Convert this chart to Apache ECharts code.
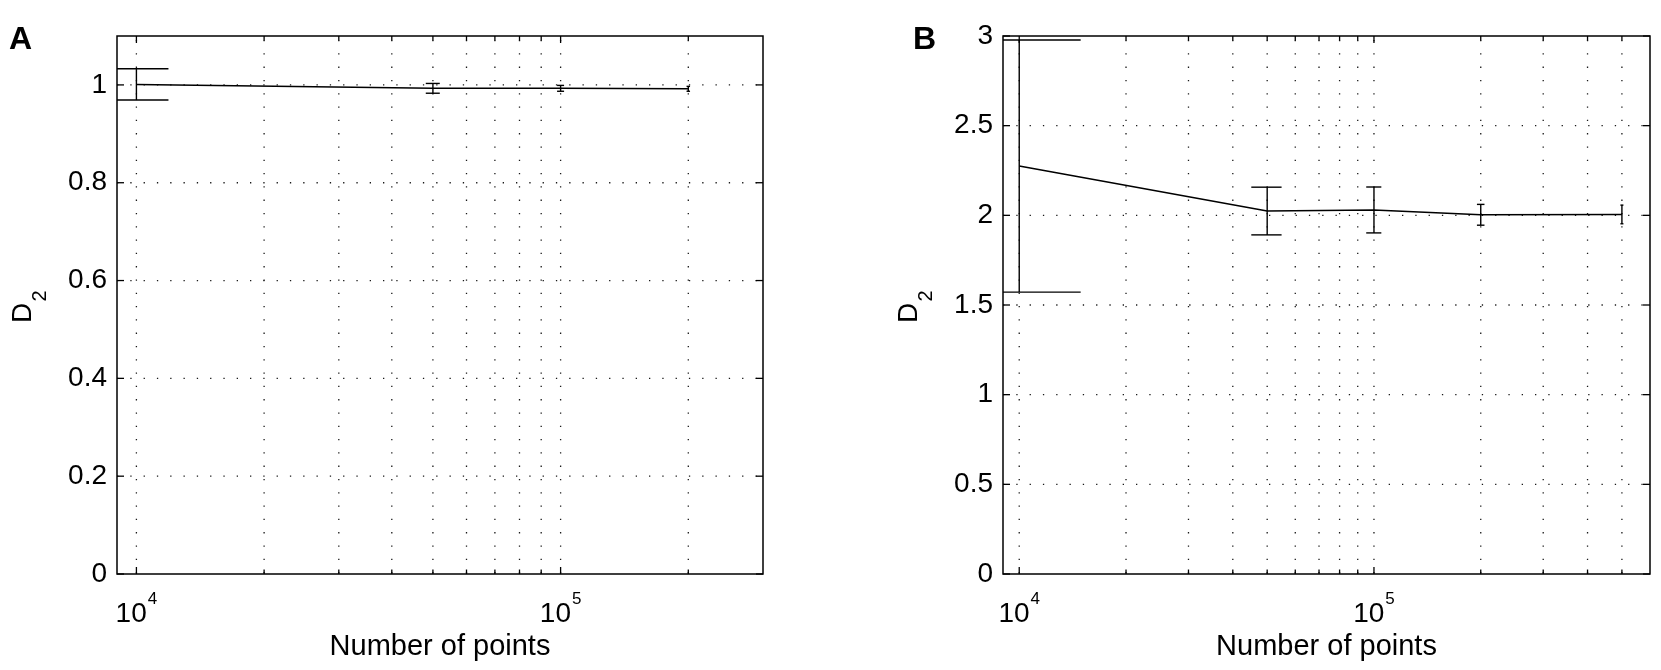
<!DOCTYPE html>
<html><head><meta charset="utf-8">
<script src="https://cdn.jsdelivr.net/npm/echarts@6/dist/echarts.min.js"></script>
<style>html,body{margin:0;padding:0;background:#fff}#c{width:1661px;height:670px}</style>
</head><body><div id="c"></div>
<script>
// ---------- Panel A ----------
const xA = [10000, 50000, 100000, 200000];
const yA = [1.001, 0.993, 0.993, 0.992];
const errA = [0.032, 0.010, 0.006, 0.005];
const xRangeA = [9000, 300000];
const yRangeA = [0, 1.1];
const yTicksA = [0, 0.2, 0.4, 0.6, 0.8, 1];
const xGridA = [10000, 20000, 30000, 40000, 50000, 60000, 70000, 80000, 90000, 100000, 200000];
// ---------- Panel B ----------
const xB = [10000, 50000, 100000, 200000, 500000];
const yB = [2.275, 2.024, 2.030, 2.003, 2.005];
const errB = [0.703, 0.133, 0.128, 0.058, 0.052];
const xRangeB = [9000, 600000];
const yRangeB = [0, 3];
const yTicksB = [0, 0.5, 1, 1.5, 2, 2.5, 3];
const xGridB = [10000, 20000, 30000, 40000, 50000, 60000, 70000, 80000, 90000, 100000, 200000, 300000, 400000, 500000];
// labelled decades
const xMajor = [10000, 100000];
const xLabel = 'Number of points';
const yLabel = ['D', '2'];
const panelLetters = ['A', 'B'];

const FONT = '"Liberation Sans", Arial, Helvetica, sans-serif';
const DOT = [1.3, 12];
const chart = echarts.init(document.getElementById('c'), null, {renderer: 'canvas'});

function isMajor(v) { return xMajor.some(m => Math.abs(m - v) / m < 1e-6); }

function xAxisCfg(gi, range) {
  return {
    gridIndex: gi, type: 'log', logBase: 10, min: range[0], max: range[1],
    axisLine: {show: false}, axisTick: {show: false}, splitLine: {show: false},
    minorTick: {show: false}, minorSplitLine: {show: false},
    axisLabel: {
      margin: 17, color: '#000', showMinLabel: true, showMaxLabel: true,
      formatter: function (v) {
        if (!isMajor(v)) return '';
        return '{b|10}{s|' + Math.round(Math.log10(v)) + '}';
      },
      rich: {
        b: {fontSize: 28, fontFamily: FONT, color: '#000', verticalAlign: 'bottom'},
        s: {fontSize: 17, fontFamily: FONT, color: '#000', verticalAlign: 'bottom', padding: [0, 0, 20, 1]}
      }
    },
    name: xLabel, nameLocation: 'middle', nameGap: 53,
    nameTextStyle: {fontSize: 29, fontFamily: FONT, color: '#000'}
  };
}
function yAxisCfg(gi, range, ticks, interval) {
  return {
    gridIndex: gi, type: 'value', min: range[0], max: range[1], interval: interval,
    axisLine: {show: false}, axisTick: {show: false}, splitLine: {show: false},
    axisLabel: {
      margin: 10, fontSize: 28, fontFamily: FONT, color: '#000',
      formatter: function (v) {
        return ticks.some(t => Math.abs(t - v) < 1e-9) ? String(+v.toFixed(3)) : '';
      }
    }
  };
}

function vGridSeries(gi, grid, range) {
  return {
    type: 'custom', xAxisIndex: gi, yAxisIndex: gi, silent: true, z: 1,
    data: grid.map(v => [v, isMajor(v) ? 1 : 0]),
    encode: {x: 0},
    renderItem: function (params, api) {
      const v = api.value(0);
      const x = api.coord([v, 0])[0];
      const cs = params.coordSys;
      const top = cs.y, bot = cs.y + cs.height;
      const len = api.value(1) ? 7 : 4.5;
      const ch = [];
      if (x > cs.x + 1 && x < cs.x + cs.width - 1) {
        ch.push({type: 'line', shape: {x1: x, y1: top + 4, x2: x, y2: bot},
          style: {stroke: '#1a1a1a', lineWidth: 1.3, lineDash: DOT}});
      }
      ch.push({type: 'line', shape: {x1: x, y1: bot, x2: x, y2: bot - len}, style: {stroke: '#000', lineWidth: 1.3}});
      ch.push({type: 'line', shape: {x1: x, y1: top, x2: x, y2: top + len}, style: {stroke: '#000', lineWidth: 1.3}});
      return {type: 'group', children: ch};
    }
  };
}
function hGridSeries(gi, ticks, xr, yr) {
  return {
    type: 'custom', xAxisIndex: gi, yAxisIndex: gi, silent: true, z: 1,
    data: ticks.map(v => [xr[0], v]),
    encode: {x: 0, y: 1},
    renderItem: function (params, api) {
      const v = api.value(1);
      const y = api.coord([xr[0], v])[1];
      const cs = params.coordSys;
      const l = cs.x, r = cs.x + cs.width;
      const ch = [];
      if (v > yr[0] && v < yr[1]) {
        ch.push({type: 'line', shape: {x1: l, y1: y, x2: r, y2: y},
          style: {stroke: '#1a1a1a', lineWidth: 1.3, lineDash: DOT}});
      }
      ch.push({type: 'line', shape: {x1: l, y1: y, x2: l + 7, y2: y}, style: {stroke: '#000', lineWidth: 1.3}});
      ch.push({type: 'line', shape: {x1: r, y1: y, x2: r - 7, y2: y}, style: {stroke: '#000', lineWidth: 1.3}});
      return {type: 'group', children: ch};
    }
  };
}
function lineSeries(gi, xs, ys) {
  return {
    type: 'line', xAxisIndex: gi, yAxisIndex: gi, z: 3, silent: true,
    data: xs.map((x, i) => [x, ys[i]]), showSymbol: false, symbol: 'none',
    lineStyle: {color: '#000', width: 1.5}
  };
}
function errSeries(gi, xs, ys, es) {
  const tee = (Math.max(...xs) - Math.min(...xs)) / 100;
  return {
    type: 'custom', xAxisIndex: gi, yAxisIndex: gi, z: 4, silent: true,
    dimensions: ['x', 'y', 'e'], encode: {x: 0, y: 1},
    data: xs.map((x, i) => [x, ys[i], es[i]]),
    renderItem: function (params, api) {
      const x = api.value(0), y = api.value(1), e = api.value(2);
      const cs = params.coordSys;
      const pT = api.coord([x, y + e]), pB = api.coord([x, y - e]);
      let xl = api.coord([x - tee, y])[0], xr = api.coord([x + tee, y])[0];
      xl = Math.max(xl, cs.x); xr = Math.min(xr, cs.x + cs.width);
      const st = {stroke: '#000', lineWidth: 1.4};
      return {type: 'group', children: [
        {type: 'line', shape: {x1: pT[0], y1: pT[1], x2: pB[0], y2: pB[1]}, style: st},
        {type: 'line', shape: {x1: xl, y1: pT[1], x2: xr, y2: pT[1]}, style: st},
        {type: 'line', shape: {x1: xl, y1: pB[1], x2: xr, y2: pB[1]}, style: st}
      ]};
    }
  };
}

function yLab(cx) {
  return [
    {type: 'text', x: cx, y: 313, rotation: Math.PI / 2,
      style: {text: yLabel[0], fontSize: 28, fontFamily: FONT, fill: '#000', align: 'center', verticalAlign: 'middle'}},
    {type: 'text', x: cx + 17, y: 296, rotation: Math.PI / 2,
      style: {text: yLabel[1], fontSize: 20, fontFamily: FONT, fill: '#000', align: 'center', verticalAlign: 'middle'}}
  ];
}

const gridStyle = {show: true, borderColor: '#000', borderWidth: 1.5, backgroundColor: 'transparent', containLabel: false};

chart.setOption({
  animation: false,
  backgroundColor: '#fff',
  textStyle: {fontFamily: FONT},
  grid: [
    Object.assign({left: 117, top: 36, width: 646, height: 538}, gridStyle),
    Object.assign({left: 1003, top: 36, width: 647, height: 538}, gridStyle)
  ],
  xAxis: [xAxisCfg(0, xRangeA), xAxisCfg(1, xRangeB)],
  yAxis: [yAxisCfg(0, yRangeA, yTicksA, 0.2), yAxisCfg(1, yRangeB, yTicksB, 0.5)],
  graphic: [
    {type: 'text', x: 9, y: 40, style: {text: panelLetters[0], font: 'bold 32px ' + FONT, fill: '#000', align: 'left', verticalAlign: 'middle'}},
    {type: 'text', x: 913, y: 40, style: {text: panelLetters[1], font: 'bold 32px ' + FONT, fill: '#000', align: 'left', verticalAlign: 'middle'}}
  ].concat(yLab(23), yLab(909)),
  series: [
    vGridSeries(0, xGridA, xRangeA), hGridSeries(0, yTicksA, xRangeA, yRangeA),
    lineSeries(0, xA, yA), errSeries(0, xA, yA, errA),
    vGridSeries(1, xGridB, xRangeB), hGridSeries(1, yTicksB, xRangeB, yRangeB),
    lineSeries(1, xB, yB), errSeries(1, xB, yB, errB)
  ]
});
</script></body></html>
